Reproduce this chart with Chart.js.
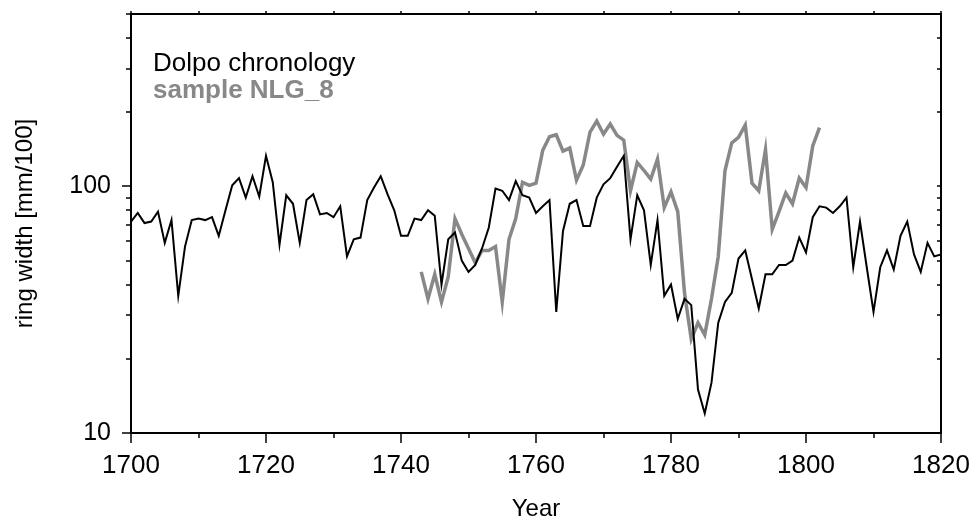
<!DOCTYPE html>
<html>
<head>
<meta charset="utf-8">
<script src="https://cdn.jsdelivr.net/npm/chart.js@4/dist/chart.umd.min.js"></script>
<style>
html,body{margin:0;padding:0;background:#fff;}
#wrap{width:972px;height:517px;}
</style>
</head>
<body>
<div id="wrap"><canvas id="grafico" width="972" height="517"></canvas></div>
<script>
// Dolpo chronology, one value per year from 1700
const dolpoInicio = 1700;
const dolpoValores = [
  72, 78, 71, 72, 79, 59, 73, 36, 57, 73,
  74, 73, 75, 63, 80, 101, 108, 90, 110, 91,
  133, 104, 58, 92, 85, 59, 88, 93, 77, 78,
  75, 83, 52, 61, 62, 88, 99, 110, 93, 80,
  63, 63, 74, 73, 80, 76, 40, 61, 65, 50,
  45, 48, 56, 68, 98, 96, 88, 105, 92, 90,
  78, 83, 88, 31, 66, 85, 88, 69, 69, 90,
  102, 108, 120, 133, 61, 92, 80, 48, 73, 36,
  40, 29, 35, 33, 15, 12, 16, 28, 34, 37,
  51, 55, 42, 32, 44, 44, 48, 48, 50, 62,
  54, 75, 83, 82, 78, 83, 90, 47, 72, 47,
  31, 47, 55, 46, 63, 72, 53, 45, 59, 52,
  53
];

// sample NLG_8, one value per year from 1743
const amostraInicio = 1743;
const amostraValores = [
  45, 35, 44, 34, 43, 74, 64, 56, 49, 55,
  55, 57, 34, 61, 74, 104, 101, 103, 140, 159,
  162, 139, 143, 106, 122, 166, 184, 163, 179, 161,
  154, 96, 125, 116, 107, 129, 82, 95, 79, 37,
  24, 28, 25, 35, 52, 116, 150, 158, 177, 103,
  96, 141, 67, 79, 94, 85, 108, 99, 146, 173
];

const anosMarca = [1700, 1710, 1720, 1730, 1740, 1750, 1760, 1770, 1780, 1790, 1800, 1810, 1820];
const anosRotulo = [1700, 1720, 1740, 1760, 1780, 1800, 1820];
const valoresMarca = [10, 20, 30, 40, 50, 60, 70, 80, 90, 100, 200, 300, 400, 500];
const valoresRotulo = [10, 100];

const fonte = "'Liberation Sans', Arial, sans-serif";

const pontosDolpo = dolpoValores.map((v, i) => ({ x: dolpoInicio + i, y: v }));
const pontosAmostra = amostraValores.map((v, i) => ({ x: amostraInicio + i, y: v }));

// moldura, marcas e legenda
const moldura = {
  id: 'moldura',
  afterDraw(chart) {
    const { ctx, chartArea: a, scales: { x, y } } = chart;
    const linha = (x1, y1, x2, y2) => { ctx.beginPath(); ctx.moveTo(x1, y1); ctx.lineTo(x2, y2); ctx.stroke(); };
    ctx.save();
    ctx.strokeStyle = '#000';
    ctx.lineWidth = 2;
    ctx.strokeRect(a.left, a.top, a.right - a.left, a.bottom - a.top);
    ctx.lineWidth = 1.5;
    anosMarca.forEach(ano => {
      const px = Math.round(x.getPixelForValue(ano));
      const len = anosRotulo.includes(ano) ? 10 : 5;
      linha(px, a.bottom, px, a.bottom + len);
      linha(px, a.top, px, a.top - 3);
    });
    valoresMarca.forEach(v => {
      const py = Math.round(y.getPixelForValue(v));
      const len = valoresRotulo.includes(v) ? 9 : 5;
      linha(a.left - len, py, a.left, py);
      linha(a.right, py, a.right - 4, py);
    });
    ctx.textAlign = 'left';
    ctx.textBaseline = 'alphabetic';
    ctx.font = '26px ' + fonte;
    ctx.fillStyle = '#000';
    ctx.fillText('Dolpo chronology', 153, 71);
    ctx.font = 'bold 26px ' + fonte;
    ctx.fillStyle = '#888888';
    ctx.fillText('sample NLG_8', 153, 98);
    ctx.restore();
  }
};

new Chart(document.getElementById('grafico'), {
  type: 'line',
  data: {
    datasets: [
      { label: 'Dolpo chronology', data: pontosDolpo, borderColor: '#000', borderWidth: 2, pointRadius: 0, tension: 0 },
      { label: 'sample NLG_8', data: pontosAmostra, borderColor: '#888888', borderWidth: 3.5, pointRadius: 0, tension: 0 }
    ]
  },
  options: {
    responsive: false,
    animation: false,
    devicePixelRatio: 1,
    layout: { padding: { top: 14, right: 31, left: 0, bottom: 0 } },
    plugins: { legend: { display: false }, tooltip: { enabled: false } },
    scales: {
      x: {
        type: 'linear',
        min: 1700,
        max: 1820,
        afterBuildTicks: s => { s.ticks = anosMarca.map(v => ({ value: v })); },
        afterFit: s => { s.height = 84; s.paddingLeft = 0; s.paddingRight = 0; },
        grid: { display: false, drawTicks: false },
        border: { display: false },
        ticks: {
          color: '#000',
          font: { family: fonte, size: 26 },
          padding: 17,
          maxRotation: 0,
          autoSkip: false,
          callback: v => anosRotulo.includes(v) ? String(v) : null
        },
        title: { display: true, text: 'Year', color: '#000', font: { family: fonte, size: 24 }, padding: { top: 0, bottom: -7 } }
      },
      y: {
        type: 'logarithmic',
        min: 10,
        max: 500,
        afterBuildTicks: s => { s.ticks = valoresMarca.map(v => ({ value: v })); },
        afterFit: s => { s.width = 131; s.paddingTop = 0; s.paddingBottom = 0; },
        grid: { display: false, drawTicks: false },
        border: { display: false },
        ticks: {
          color: '#000',
          font: { family: fonte, size: 25 },
          padding: 20,
          autoSkip: false,
          callback: v => valoresRotulo.includes(v) ? String(v) : null
        },
        title: { display: true, text: 'ring width [mm/100]', color: '#000', font: { family: fonte, size: 24 }, padding: { top: 11, bottom: 0 } }
      }
    }
  },
  plugins: [moldura]
});
</script>
</body>
</html>
